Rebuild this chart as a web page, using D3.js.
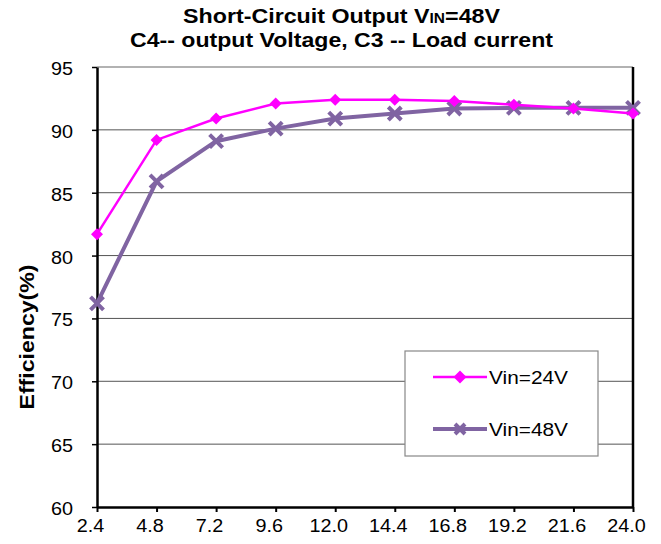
<!DOCTYPE html>
<html><head><meta charset="utf-8">
<script src="https://cdn.jsdelivr.net/npm/d3@7"></script>
<style>body{margin:0;background:#fff;} svg{display:block;font-family:"Liberation Sans",Arial,sans-serif;}</style>
</head><body>
<svg id="c" width="661" height="544"></svg>
<script>
const loadCurrent = [2.4, 4.8, 7.2, 9.6, 12.0, 14.4, 16.8, 19.2, 21.6, 24.0];
const vin24 = [81.7, 89.2, 90.9, 92.1, 92.4, 92.4, 92.3, 92.0, 91.7, 91.3];
const vin48 = [76.2, 85.9, 89.1, 90.1, 90.9, 91.3, 91.7, 91.75, 91.75, 91.75];
const xTicks = [2.4, 4.8, 7.2, 9.6, 12.0, 14.4, 16.8, 19.2, 21.6, 24.0];
const yTicks = [60, 65, 70, 75, 80, 85, 90, 95];
const seriesNames = ["Vin=24V", "Vin=48V"];

const svg = d3.select("#c");
const L = 97, R = 633, T = 67, B = 507;
const x = d3.scaleLinear().domain([2.4, 24.0]).range([L, R]);
const y = d3.scaleLinear().domain([60, 95]).range([B, T]);
const stretch = sel => sel.each(function() {
  const w = this.getComputedTextLength();
  d3.select(this).attr("textLength", w * 1.1).attr("lengthAdjust", "spacingAndGlyphs");
});

// gridlines
svg.append("g").selectAll("line").data(yTicks.filter(d => d > 60 && d < 95)).join("line")
  .attr("x1", L).attr("x2", R).attr("y1", d => y(d)).attr("y2", d => y(d))
  .attr("stroke", "#555").attr("stroke-width", 1);
svg.append("line").attr("x1", L).attr("x2", R).attr("y1", T).attr("y2", T).attr("stroke", "#999").attr("stroke-width", 1.5);
svg.append("line").attr("x1", R).attr("x2", R).attr("y1", T).attr("y2", B).attr("stroke", "#000").attr("stroke-width", 2.5);

// x axis
const xAxis = svg.append("g").attr("transform", `translate(0,${B})`)
  .call(d3.axisBottom(x).tickValues(xTicks).tickFormat(d3.format(".1f")).tickSize(5).tickSizeOuter(0).tickPadding(7));
xAxis.select(".domain").attr("stroke", "#000").attr("stroke-width", 2.5);
xAxis.selectAll(".tick line").attr("stroke", "#000").attr("stroke-width", 2);
xAxis.selectAll(".tick text").attr("font-size", 18).attr("font-family", "Liberation Sans, Arial, sans-serif")
  .attr("fill", "#000").attr("x", -7).call(stretch);

// y axis
const yAxis = svg.append("g").attr("transform", `translate(${L},0)`)
  .call(d3.axisLeft(y).tickValues(yTicks).tickSize(5).tickSizeOuter(0).tickPadding(19));
yAxis.select(".domain").attr("stroke", "#000").attr("stroke-width", 2.5);
yAxis.selectAll(".tick line").attr("stroke", "#000").attr("stroke-width", 1.5);
yAxis.selectAll(".tick text").attr("font-size", 18).attr("font-family", "Liberation Sans, Arial, sans-serif")
  .attr("fill", "#000").attr("dy", "0.42em").call(stretch);

// y title
svg.append("text").attr("transform", `translate(34,337) rotate(-90)`)
  .attr("text-anchor", "middle").attr("font-size", 20).attr("font-weight", "bold")
  .attr("textLength", 145).attr("lengthAdjust", "spacingAndGlyphs").text("Efficiency(%)");

// title
const t1 = svg.append("text").attr("x", 341.5).attr("y", 23).attr("text-anchor", "middle")
  .attr("font-size", 21).attr("font-weight", "bold").attr("textLength", 317).attr("lengthAdjust", "spacingAndGlyphs");
t1.append("tspan").text("Short-Circuit Output V");
t1.append("tspan").attr("font-size", 14).text("IN");
t1.append("tspan").text("=48V");
svg.append("text").attr("x", 341.5).attr("y", 47).attr("text-anchor", "middle")
  .attr("font-size", 21).attr("font-weight", "bold").attr("textLength", 423).attr("lengthAdjust", "spacingAndGlyphs")
  .text("C4-- output Voltage, C3 -- Load current");

const line = d3.line().x((d, i) => x(loadCurrent[i])).y(d => y(d));
const c48 = "#8064A2", c24 = "#FF00FF";

svg.append("path").datum(vin48).attr("d", line).attr("fill", "none").attr("stroke", c48).attr("stroke-width", 4);
const xMark = (g, s) => g.append("path").attr("d", `M${-s},${-s}L${s},${s}M${-s},${s}L${s},${-s}`)
  .attr("stroke", c48).attr("stroke-width", 4).attr("fill", "none");
svg.append("g").selectAll("g").data(vin48).join("g")
  .attr("transform", (d, i) => `translate(${x(loadCurrent[i])},${y(d)})`)
  .each(function() { xMark(d3.select(this), 6.5); });

svg.append("path").datum(vin24).attr("d", line).attr("fill", "none").attr("stroke", c24).attr("stroke-width", 2.5);
const diamond = s => `M0,${-s}L${s},0L0,${s}L${-s},0Z`;
svg.append("g").selectAll("path").data(vin24).join("path")
  .attr("d", diamond(6)).attr("fill", c24)
  .attr("transform", (d, i) => `translate(${x(loadCurrent[i])},${y(d)})`);

// legend
const lg = svg.append("g");
lg.append("rect").attr("x", 405).attr("y", 351).attr("width", 193).attr("height", 105)
  .attr("fill", "#fff").attr("stroke", "#888").attr("stroke-width", 1.2);
const rows = [{name: seriesNames[0], color: c24, ly: 377, type: "d"}, {name: seriesNames[1], color: c48, ly: 429, type: "x"}];
rows.forEach(r => {
  lg.append("line").attr("x1", 433).attr("x2", 487).attr("y1", r.ly).attr("y2", r.ly)
    .attr("stroke", r.color).attr("stroke-width", r.type === "d" ? 2.5 : 4);
  if (r.type === "d") {
    lg.append("path").attr("d", diamond(6.5)).attr("fill", r.color).attr("transform", `translate(460,${r.ly})`);
  } else {
    xMark(lg.append("g").attr("transform", `translate(460,${r.ly})`), 5);
  }
  lg.append("text").attr("x", 489).attr("y", r.ly).attr("dy", "0.36em").attr("font-size", 19)
    .attr("textLength", 79).attr("lengthAdjust", "spacingAndGlyphs").text(r.name);
});
</script>
</body></html>
